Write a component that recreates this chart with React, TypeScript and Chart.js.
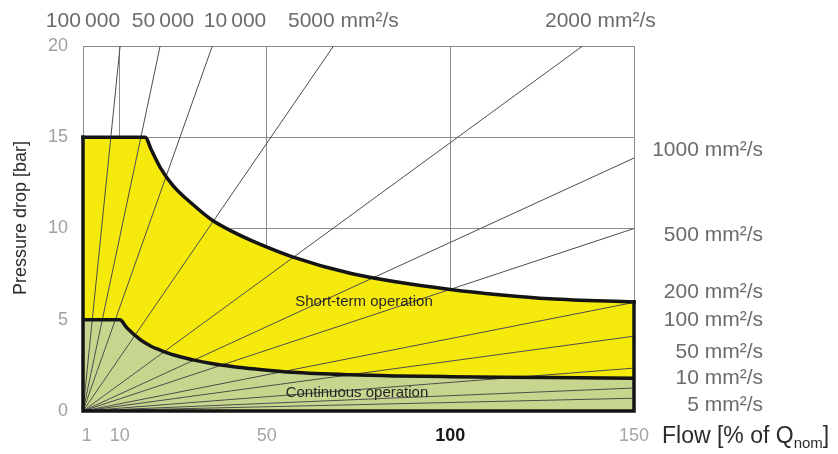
import React, { useEffect, useRef } from 'react';
import { Chart, registerables } from 'chart.js';

Chart.register(...registerables);

// ---- data ----
const xTicks = [1, 10, 50, 100, 150];
const yTicks = [0, 5, 10, 15, 20];

const flowPoints = [0, 10, 12, 15.5, 17, 18.5, 21, 24.5, 30, 35, 41, 47, 57, 73, 86, 100, 114, 127, 150];
const continuousLimit = [5, 5, 4.55, 3.92, 3.72, 3.55, 3.34, 3.08, 2.8, 2.6, 2.43, 2.3, 2.12, 1.98, 1.92, 1.88, 1.85, 1.83, 1.8];
const shortTermLimit = [15, 15, 15, 15, 15, 14.35, 13.35, 12.35, 11.3, 10.48, 9.8, 9.24, 8.45, 7.53, 7.05, 6.66, 6.36, 6.15, 5.97];

const topViscosities = ['100\u2009000', '50\u2009000', '10\u2009000', '5000 mm²/s', '2000 mm²/s'];
const topExitFlow = [10.1, 21, 35.2, 68.2, 136];

const rightViscosities = ['1000 mm²/s', '500 mm²/s', '200 mm²/s', '100 mm²/s', '50 mm²/s', '10 mm²/s', '5 mm²/s'];
const rightExitPressure = [13.86, 10.0, 5.95, 4.1, 2.35, 1.26, 0.7];

const regionLabels = ['Short-term operation', 'Continuous operation'];

const FONT = '"Liberation Sans", Arial, Helvetica, sans-serif';

// label layout (pixels)
const topLabelPos = [
  { x: 83, y: 21, align: 'center' },
  { x: 163, y: 21, align: 'center' },
  { x: 235, y: 21, align: 'center' },
  { x: 288, y: 21, align: 'left' },
  { x: 545, y: 21, align: 'left' },
];
const rightLabelY = [150, 235, 292, 320, 352, 378, 405];
const regionLabelPos = [
  { x: 364, y: 302 },
  { x: 357, y: 393 },
];

const textPlugin = {
  id: 'textPlugin',
  afterDraw(chart: any) {
    const ctx = chart.ctx as CanvasRenderingContext2D;
    ctx.save();
    ctx.textBaseline = 'middle';
    ctx.fillStyle = '#6b6b6b';
    ctx.font = `21px ${FONT}`;
    topViscosities.forEach((t, i) => {
      const p = topLabelPos[i];
      ctx.textAlign = p.align as CanvasTextAlign;
      ctx.fillText(t, p.x, p.y);
    });
    ctx.textAlign = 'right';
    rightViscosities.forEach((t, i) => {
      ctx.fillText(t, 763, rightLabelY[i]);
    });

    ctx.fillStyle = '#262626';
    ctx.font = `15px ${FONT}`;
    ctx.textAlign = 'center';
    regionLabels.forEach((t, i) => {
      ctx.fillText(t, regionLabelPos[i].x, regionLabelPos[i].y);
    });

    // x axis title with subscript
    ctx.fillStyle = '#2b2b2b';
    ctx.textAlign = 'left';
    ctx.font = `23px ${FONT}`;
    let x = 662;
    const main = 'Flow [% of Q';
    ctx.fillText(main, x, 437);
    x += ctx.measureText(main).width;
    ctx.font = `15px ${FONT}`;
    ctx.fillText('nom', x, 444);
    x += ctx.measureText('nom').width;
    ctx.font = `23px ${FONT}`;
    ctx.fillText(']', x, 437);

    // y axis title
    ctx.save();
    ctx.translate(21, 218);
    ctx.rotate(-Math.PI / 2);
    ctx.textAlign = 'center';
    ctx.font = `18px ${FONT}`;
    ctx.fillStyle = '#2b2b2b';
    ctx.fillText('Pressure drop [bar]', 0, 0);
    ctx.restore();

    ctx.restore();
  },
};

export default function App() {
  const ref = useRef<HTMLCanvasElement>(null);

  useEffect(() => {
    if (!ref.current) return;
    const fanLines: any[] = [];
    topExitFlow.forEach((fx) => {
      fanLines.push({
        data: [{ x: 0, y: 0 }, { x: fx, y: yTicks[yTicks.length - 1] }],
        borderColor: '#4d4d4d',
        borderWidth: 1,
        pointRadius: 0,
        fill: false,
      });
    });
    rightExitPressure.forEach((py) => {
      fanLines.push({
        data: [{ x: 0, y: 0 }, { x: xTicks[xTicks.length - 1], y: py }],
        borderColor: '#4d4d4d',
        borderWidth: 1,
        pointRadius: 0,
        fill: false,
      });
    });

    const chart = new Chart(ref.current, {
      type: 'line',
      data: {
        datasets: [
          {
            // outline of the operating region
            data: [
              { x: 0, y: shortTermLimit[0] },
              { x: 0, y: 0 },
              { x: flowPoints[flowPoints.length - 1], y: 0 },
              { x: flowPoints[flowPoints.length - 1], y: shortTermLimit[shortTermLimit.length - 1] },
            ],
            borderColor: '#141414',
            borderWidth: 3.5,
            pointRadius: 0,
            fill: false,
            borderJoinStyle: 'miter',
            borderCapStyle: 'square',
            clip: 4,
          },
          {
            label: 'Continuous operation',
            data: flowPoints.map((f, i) => ({ x: f, y: continuousLimit[i] })),
            borderColor: '#141414',
            borderWidth: 3.5,
            backgroundColor: '#c7d68f',
            fill: 'origin',
            pointRadius: 0,
            cubicInterpolationMode: 'monotone',
            clip: 4,
          },
          {
            label: 'Short-term operation',
            data: flowPoints.map((f, i) => ({ x: f, y: shortTermLimit[i] })),
            borderColor: '#141414',
            borderWidth: 3.5,
            backgroundColor: '#f6ea0c',
            fill: '-1',
            pointRadius: 0,
            cubicInterpolationMode: 'monotone',
            borderCapStyle: 'square',
            clip: 4,
          },
          ...fanLines,
        ],
      },
      options: {
        animation: false,
        responsive: true,
        maintainAspectRatio: false,
        layout: { padding: { left: 0, top: 46, right: 204, bottom: 0 } },
        plugins: {
          legend: { display: false },
          tooltip: { enabled: false },
          filler: { propagate: false, drawTime: 'beforeDatasetsDraw' },
        },
        scales: {
          x: {
            type: 'linear',
            min: 0,
            max: 150,
            afterBuildTicks: (scale: any) => {
              scale.ticks = xTicks.map((v) => ({ value: v }));
            },
            afterFit: (scale: any) => {
              scale.height = 43;
            },
            grid: {
              drawTicks: false,
              color: (c: any) => (c.tick && c.tick.value === 1 ? 'rgba(0,0,0,0)' : '#8c8c8c'),
              lineWidth: 1,
            },
            border: { display: true, color: '#8c8c8c' },
            ticks: {
              padding: 14,
              maxRotation: 0,
              autoSkip: false,
              font: (c: any) => ({
                size: 18,
                family: FONT,
                weight: c.tick && c.tick.value === 100 ? 'bold' : 'normal',
              }),
              color: (c: any) => (c.tick && c.tick.value === 100 ? '#1a1a1a' : '#a5a5a5'),
              callback: (v: any) => String(v),
            },
          },
          y: {
            type: 'linear',
            min: 0,
            max: 20,
            afterBuildTicks: (scale: any) => {
              scale.ticks = yTicks.map((v) => ({ value: v }));
            },
            afterFit: (scale: any) => {
              scale.width = 83;
            },
            grid: { drawTicks: false, color: '#8c8c8c', lineWidth: 1 },
            border: { display: true, color: '#8c8c8c' },
            ticks: {
              padding: 15,
              font: { size: 18, family: FONT },
              color: '#a0a0a0',
              callback: (v: any) => String(v),
            },
          },
        },
      },
      plugins: [textPlugin],
    } as any);

    return () => chart.destroy();
  }, []);

  return (
    <div style={{ position: 'absolute', left: 0, top: 0, width: 838, height: 454, background: '#fff' }}>
      <canvas ref={ref} />
    </div>
  );
}
